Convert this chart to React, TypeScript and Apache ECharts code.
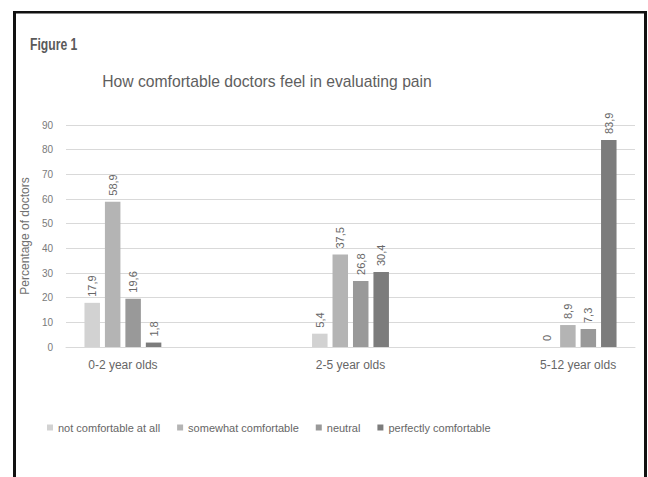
import React, { useEffect, useRef } from "react";
import * as echarts from "echarts";

const categories = ["0-2 year olds", "2-5 year olds", "5-12 year olds"];
const seriesNames = [
  "not comfortable at all",
  "somewhat comfortable",
  "neutral",
  "perfectly comfortable",
];
const notComfortable = [17.9, 5.4, 0];
const somewhatComfortable = [58.9, 37.5, 8.9];
const neutral = [19.6, 26.8, 7.3];
const perfectlyComfortable = [1.8, 30.4, 83.9];
const yTicks = [0, 10, 20, 30, 40, 50, 60, 70, 80, 90];
const colors = ["#d2d2d2", "#b4b4b4", "#999999", "#7c7c7c"];

const FONT = "'Liberation Sans', Arial, sans-serif";
const TEXT = "#666666";

export default function App() {
  const ref = useRef<HTMLDivElement>(null);
  useEffect(() => {
    if (!ref.current) return;
    const chart = echarts.init(ref.current, null, { renderer: "svg" });
    const all = [notComfortable, somewhatComfortable, neutral, perfectlyComfortable];
    const fmt = (v: number) => String(v).replace(".", ",");
    chart.setOption({
      animation: false,
      backgroundColor: "#ffffff",
      textStyle: { fontFamily: FONT },
      graphic: [
        { type: "rect", shape: { x: 13, y: 11, width: 3, height: 470 }, style: { fill: "#111" } },
        { type: "rect", shape: { x: 13, y: 11, width: 634, height: 2.5 }, style: { fill: "#111" } },
        { type: "rect", shape: { x: 644, y: 11, width: 3, height: 470 }, style: { fill: "#111" } },
        {
          type: "text",
          x: 30,
          y: 36,
          scaleX: 0.76,
          style: {
            text: "Figure 1",
            font: "bold 16px 'Liberation Sans', Arial, sans-serif",
            fill: "#5a5a5a",
          },
        },
      ],
      title: {
        text: "How comfortable doctors feel in evaluating pain",
        left: 262,
        textAlign: "center",
        top: 68,
        textStyle: { fontFamily: FONT, fontSize: 15.7, fontWeight: "normal", color: "#5e5e5e" },
      },
      legend: {
        left: 42,
        top: 417,
        itemWidth: 6,
        itemHeight: 6,
        itemGap: 17,
        icon: "rect",
        data: seriesNames,
        textStyle: { fontFamily: FONT, fontSize: 11, color: TEXT },
      },
      grid: { left: 66, right: 13, top: 125, bottom: 130 },
      xAxis: {
        type: "value",
        min: -0.25,
        max: 2.25,
        interval: 0.25,
        axisLine: { show: true, lineStyle: { color: "#d9d9d9" } },
        axisTick: { show: false },
        splitLine: { show: false },
        axisLabel: {
          fontFamily: FONT,
          fontSize: 12,
          color: TEXT,
          margin: 12,
          showMinLabel: false,
          showMaxLabel: false,
          formatter: (v: number) => {
            const r = Math.round(v);
            return Math.abs(v - r) < 1e-6 && r >= 0 && r < categories.length ? categories[r] : "";
          },
        },
      },
      yAxis: {
        type: "value",
        min: yTicks[0],
        max: yTicks[yTicks.length - 1],
        interval: 10,
        name: "Percentage of doctors",
        nameLocation: "middle",
        nameGap: 35,
        nameTextStyle: { fontFamily: FONT, fontSize: 12, color: "#707070" },
        axisLine: { show: false },
        axisTick: { show: false },
        splitLine: { lineStyle: { color: "#d9d9d9" } },
        axisLabel: { fontFamily: FONT, fontSize: 10, color: "#7a7a7a", margin: 13 },
      },
      series: all.map((vals, s) => ({
        name: seriesNames[s],
        type: "bar",
        barWidth: 15.5,
        barGap: "32%",
        itemStyle: { color: colors[s] },
        data: vals.map((v, i) => [i, v]),
        label: {
          show: true,
          position: "top",
          rotate: 90,
          align: "left",
          verticalAlign: "middle",
          distance: 6,
          fontFamily: FONT,
          fontSize: 11,
          color: TEXT,
          formatter: (p: any) => fmt(p.value[1]),
        },
      })),
    });
    return () => chart.dispose();
  }, []);
  return (
    <div
      ref={ref}
      style={{ position: "fixed", left: 0, top: 0, width: 648, height: 477, background: "#fff" }}
    />
  );
}
